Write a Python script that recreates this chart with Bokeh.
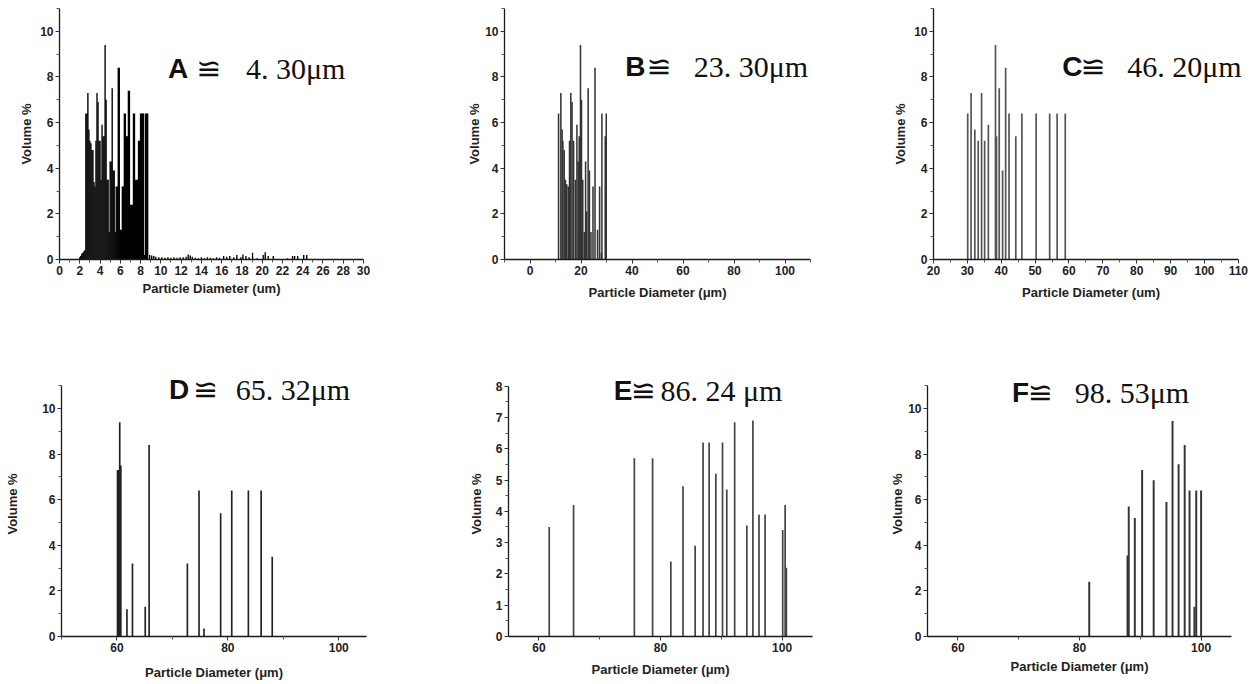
from bokeh.plotting import figure
from bokeh.layouts import column, row
from bokeh.models import Range1d, FixedTicker, Label
from bokeh.embed import file_html
from bokeh.resources import INLINE

# ---------------- data ----------------
# Panel A : particle diameter (um) vs volume %
a_x = [2.0, 2.1, 2.2, 2.3, 2.4, 2.5, 2.6, 2.7, 2.8, 2.9, 3.0, 3.1, 3.2, 3.3, 3.4, 3.5,
       3.6, 3.7, 3.8, 3.9, 4.0, 4.1, 4.2, 4.3, 4.4, 4.5, 4.6, 4.7, 4.8, 4.9, 5.0, 5.1,
       5.2, 5.3, 5.4, 5.5, 5.6, 5.7, 5.8, 5.9, 6.0, 6.1, 6.2, 6.3, 6.4, 6.5, 6.6, 6.7,
       6.8, 6.9, 7.0, 7.1, 7.2, 7.3, 7.4, 7.5, 7.6, 7.7, 7.8, 7.9, 8.0, 8.1, 8.2, 8.3,
       8.4, 8.5, 8.6, 8.7,
       8.9, 9.1, 9.3, 9.5, 9.8, 10.1, 10.4, 10.7, 11.0, 11.3, 11.6, 11.9, 12.2, 12.5,
       12.7, 12.9, 13.1, 13.4, 13.7, 14.0, 14.3, 14.6, 14.9, 15.2, 15.5, 15.8, 16.2,
       16.5, 16.8, 17.2, 17.5, 17.9, 18.1, 18.4, 18.7, 19.05, 19.5, 20.1, 20.3, 20.6,
       21.1, 22.5, 23.0, 23.2, 23.5, 24.1, 24.4]
a_y = [0.1, 0.15, 0.25, 0.3, 0.35, 0.4, 6.4, 6.4, 7.3, 5.7, 5.2, 5.1, 4.8, 4.8, 3.4, 3.2,
       5.2, 7.3, 6.9, 5.2, 5.2, 3.5, 5.9, 5.4, 5.4, 9.4, 7.0, 3.5, 3.5, 1.2, 4.3, 4.3,
       7.5, 3.9, 3.9, 1.2, 3.2, 3.2, 8.4, 8.4, 1.3, 1.3, 3.2, 3.2, 6.4, 6.4, 5.4, 5.4,
       7.4, 7.4, 2.4, 2.4, 2.4, 6.4, 6.4, 3.5, 3.5, 3.5, 5.2, 5.2, 6.4, 6.4, 6.4, 6.4,
       0.2, 6.4, 6.4, 6.4,
       0.2, 0.18, 0.15, 0.12, 0.1, 0.1, 0.08, 0.1, 0.08, 0.1, 0.08, 0.1, 0.1, 0.12,
       0.22, 0.18, 0.12, 0.08, 0.05, 0.1, 0.05, 0.1, 0.08, 0.05, 0.1, 0.08, 0.15,
       0.12, 0.15, 0.1, 0.2, 0.1, 0.22, 0.15, 0.1, 0.3, 0.05, 0.2, 0.32, 0.15,
       0.15, 0.05, 0.15, 0.15, 0.15, 0.2, 0.2]

# Panel B
b_x = [11.2, 12.1, 12.6, 12.9, 13.4, 13.9, 14.4, 15.0, 15.5, 16.0, 16.5, 17.1, 17.8,
       18.4, 18.9, 19.3, 19.8, 20.2, 20.7, 21.3, 21.8, 22.2, 22.8, 23.3, 23.9, 24.7,
       25.5, 26.5, 27.3, 28.0, 28.2, 29.5, 29.9]
b_y = [6.4, 7.3, 5.7, 5.2, 4.8, 3.5, 3.3, 3.2, 5.2, 7.3, 6.9, 5.2, 3.5,
       5.9, 4.3, 5.4, 9.4, 7.0, 3.5, 1.2, 4.3, 2.1, 7.5, 3.9, 1.2, 3.2,
       8.4, 1.3, 3.2, 0.3, 6.4, 5.4, 6.4]

# Panel C
c_x = [30.1, 31.1, 32.2, 33.2, 34.2, 35.1, 36.2, 38.3, 38.6, 39.4, 40.4, 41.3, 42.3,
       44.3, 46.1, 50.3, 54.3, 56.5, 58.9]
c_y = [6.4, 7.3, 5.7, 5.2, 7.3, 5.2, 5.9, 9.4, 5.4, 7.5, 3.9, 8.4, 6.4,
       5.4, 6.4, 6.4, 6.4, 6.4, 6.4]

# Panel D
d_x = [60.1, 60.25, 60.4, 60.5, 60.7, 61.8, 62.8, 65.1, 65.8, 72.7, 74.8, 75.7, 78.7,
       80.7, 83.7, 86.0, 88.0]
d_y = [7.3, 7.3, 7.3, 9.4, 7.5, 1.2, 3.2, 1.3, 8.4, 3.2, 6.4, 0.35, 5.4,
       6.4, 6.4, 6.4, 3.5]

# Panel E
e_x = [61.7, 65.7, 75.7, 78.7, 81.7, 83.7, 85.7, 87.0, 88.0, 89.1, 90.2, 90.9, 92.2,
       94.2, 95.2, 96.2, 97.2, 100.1, 100.5, 100.7]
e_y = [3.5, 4.2, 5.7, 5.7, 2.4, 4.8, 2.9, 6.2, 6.2, 5.2, 6.2, 4.7, 6.85,
       3.55, 6.9, 3.9, 3.9, 3.4, 4.2, 2.2]

# Panel F
f_x = [81.6, 87.9, 88.1, 89.1, 90.3, 92.2, 94.3, 95.3, 96.3, 97.3, 98.1, 98.9, 99.2, 100.0]
f_y = [2.4, 3.55, 5.7, 5.2, 7.3, 6.85, 5.9, 9.45, 7.55, 8.4, 6.4, 1.3, 6.4, 6.4]

# titles: letter, symbol, value
titles = {
    "A": ("A", "≌", "4. 30μm"),
    "B": ("B", "≌", "23. 30μm"),
    "C": ("C", "≌", "46. 20μm"),
    "D": ("D", "≌", "65. 32μm"),
    "E": ("E", "≌", "86. 24 μm"),
    "F": ("F", "≌", "98. 53μm"),
}

SANS = "Liberation Sans"
SERIF = "Liberation Serif"


def panel(xs, ys, xr, yr, xb, yb, width, height, mbl, mbr, mbt, mbb,
          xt, xm, yt, ym, bar_w, color, xlabel, xls, yls, title, tpos):
    p = figure(width=width, height=height,
               x_range=Range1d(*xr), y_range=Range1d(*yr),
               output_backend="svg", toolbar_location=None,
               min_border_left=mbl, min_border_right=mbr,
               min_border_top=mbt, min_border_bottom=mbb)
    p.vbar(x=xs, top=ys, bottom=0, width=bar_w, fill_color=color,
           line_color=None)
    p.grid.visible = False
    p.outline_line_color = None
    p.background_fill_color = "white"
    p.border_fill_color = "white"

    for ax in (p.xaxis[0], p.yaxis[0]):
        ax.axis_line_color = "#1a1a1a"
        ax.axis_line_width = 1.3
        ax.major_tick_line_color = "#333"
        ax.minor_tick_line_color = "#555"
        ax.major_tick_in = 0
        ax.major_tick_out = 4
        ax.minor_tick_in = 0
        ax.minor_tick_out = 3
        ax.major_label_text_font = SANS
        ax.major_label_text_font_style = "bold"
        ax.major_label_text_font_size = "12px"
        ax.major_label_text_color = "#222"
        ax.axis_label_text_font = SANS
        ax.axis_label_text_font_style = "bold"
        ax.axis_label_text_font_size = "13px"
        ax.axis_label_text_color = "#222"
        ax.major_label_standoff = 2

    p.xaxis.bounds = xb
    p.yaxis.bounds = yb
    p.xaxis.ticker = FixedTicker(ticks=xt, minor_ticks=xm)
    p.yaxis.ticker = FixedTicker(ticks=yt, minor_ticks=ym)
    p.xaxis.axis_label = xlabel
    p.yaxis.axis_label = "Volume %"
    p.xaxis.axis_label_standoff = xls
    p.yaxis.axis_label_standoff = yls

    (lx, sx, vx, by) = tpos
    letter, sym, val = title
    p.add_layout(Label(x=lx, y=by, text=letter, text_font=SANS,
                       text_font_style="bold", text_font_size="28px",
                       text_color="#111", text_baseline="alphabetic"))
    p.add_layout(Label(x=sx, y=by, text=sym, text_font="DejaVu Sans",
                       text_font_size="30px", text_color="#111",
                       text_baseline="alphabetic"))
    p.add_layout(Label(x=vx, y=by, text=val, text_font=SERIF,
                       text_font_size="30px", text_color="#111",
                       text_baseline="alphabetic"))
    return p


odd11 = [1, 3, 5, 7, 9, 11]
even10 = [0, 2, 4, 6, 8, 10]

# Row 1: frame 8 -> 259 (251 px), y 0..11
pA = panel(a_x, a_y, (0, 30), (0, 11), (0, 30), (0, 11), 420, 360, 59, 57, 8, 101,
           list(range(0, 31, 2)), list(range(1, 30, 2)), even10, odd11,
           0.135, "#000000", "Particle Diameter (um)", 3, 3, titles["A"],
           (10.7, 13.5, 18.4, 8.35))

pB = panel(b_x, b_y, (-10, 110), (0, 11), (-10, 110), (0, 11), 420, 360, 84, 30, 8, 101,
           [0, 20, 40, 60, 80, 100], [-10, 10, 30, 50, 70, 90, 110], even10, odd11,
           0.6, "#333333", "Particle Diameter (μm)", 7, 0, titles["B"],
           (37.4, 45.7, 64.2, 8.45))

pC = panel(c_x, c_y, (20, 113), (0, 11), (20, 110), (0, 11), 411, 360, 93, 3, 8, 101,
           list(range(20, 111, 10)), list(range(25, 110, 10)), even10, odd11,
           0.5, "#555555", "Particle Diameter (um)", 7, 3, titles["C"],
           (58.0, 63.4, 77.2, 8.45))

# Row 2: frame 371 -> 636 (265 px), axis drawn up to 11 (or 8)
pD = panel(d_x, d_y, (50, 105), (0, 11.62), (50, 105), (0, 11), 420, 322, 61, 54, 11, 46,
           [60, 80, 100], [50, 70, 90], even10, odd11,
           0.3, "#222222", "Particle Diameter (μm)", 10, 19, titles["D"],
           (69.4, 73.7, 81.4, 10.85))

pE = panel(e_x, e_y, (55, 105), (0, 8.47), (55, 105), (0, 8), 420, 322, 88, 28, 11, 46,
           [60, 80, 100], [70, 90], list(range(0, 9)), [0.5 + i for i in range(8)],
           0.28, "#444444", "Particle Diameter (μm)", 7, 9, titles["E"],
           (72.3, 75.1, 80.0, 7.87))

pF = panel(f_x, f_y, (55, 105), (0, 11.62), (55, 105), (0, 11), 411, 322, 87, 20, 11, 46,
           [60, 80, 100], [70, 90], even10, odd11,
           0.32, "#333333", "Particle Diameter (μm)", 4, 0, titles["F"],
           (68.9, 71.5, 79.2, 10.7))

layout = column(row(pA, pB, pC), row(pD, pE, pF))

open("out.html", "w").write(file_html(layout, INLINE))
